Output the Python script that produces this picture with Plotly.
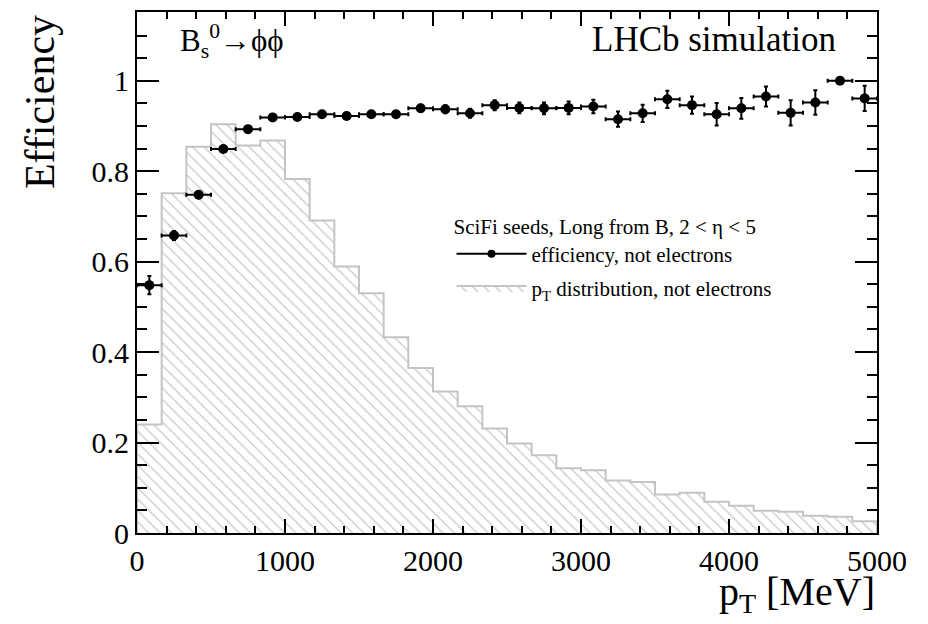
import numpy as np
import plotly.graph_objects as go

# ---- data ----
bin_edges = np.linspace(0, 5000, 31)
bin_centers = 0.5 * (bin_edges[:-1] + bin_edges[1:])
bin_half = 0.5 * (bin_edges[1] - bin_edges[0])

efficiency = [0.548, 0.658, 0.748, 0.849, 0.893, 0.919, 0.920, 0.926, 0.922, 0.926,
              0.926, 0.939, 0.937, 0.928, 0.946, 0.940, 0.939, 0.940, 0.943, 0.915,
              0.928, 0.959, 0.946, 0.926, 0.939, 0.965, 0.929, 0.952, 1.000, 0.961]
efficiency_err = [0.020, 0.010, 0.008, 0.006, 0.005, 0.004, 0.004, 0.005, 0.005, 0.006,
                  0.007, 0.008, 0.009, 0.010, 0.011, 0.012, 0.013, 0.014, 0.015, 0.017,
                  0.019, 0.019, 0.019, 0.025, 0.023, 0.022, 0.028, 0.027, 0.004, 0.028]
pt_distribution = [0.240, 0.751, 0.854, 0.904, 0.857, 0.868, 0.783, 0.691, 0.589, 0.530,
                   0.433, 0.365, 0.313, 0.280, 0.231, 0.198, 0.172, 0.143, 0.139, 0.116,
                   0.113, 0.085, 0.089, 0.069, 0.060, 0.049, 0.047, 0.038, 0.036, 0.026]

x_ticks = [0, 1000, 2000, 3000, 4000, 5000]
y_ticks = [0, 0.2, 0.4, 0.6, 0.8, 1.0]

FONT = "Liberation Serif, Times New Roman, serif"

# step outline built from the histogram contents
step_x = [bin_edges[0]] + list(bin_edges[:-1]) + [bin_edges[-1], bin_edges[-1]]
step_y = [0] + list(pt_distribution) + [pt_distribution[-1], 0]

fig = go.Figure()

fig.add_trace(go.Scatter(
    x=step_x, y=step_y, mode="lines", line_shape="hv",
    line=dict(color="#c4c4c4", width=2),
    fill="tozeroy", fillcolor="white",
    fillpattern=dict(shape="\\", fgcolor="#9a9a9a", bgcolor="white", size=8, solidity=0.18),
    name="p<sub>T</sub> distribution, not electrons",
    showlegend=True, legendrank=2, legendgroup="b",
))

fig.add_trace(go.Scatter(
    x=bin_centers, y=efficiency, mode="markers",
    marker=dict(color="black", size=10),
    error_x=dict(type="constant", value=bin_half, color="black", thickness=2, width=2),
    error_y=dict(type="data", array=efficiency_err, color="black", thickness=2, width=2),
    showlegend=False,
))

# legend proxy (no data) for the efficiency entry
fig.add_trace(go.Scatter(
    x=[None], y=[None], mode="lines+markers",
    line=dict(color="black", width=2), marker=dict(color="black", size=8),
    name="efficiency, not electrons", legendrank=1, legendgroup="a",
))

fig.update_layout(
    width=928, height=624,
    margin=dict(l=137, r=51, t=10, b=91),
    paper_bgcolor="white", plot_bgcolor="white",
    font=dict(family=FONT, color="black"),
    showlegend=True,
    legend=dict(
        x=0.425, y=0.627, xanchor="left", yanchor="top",
        bgcolor="rgba(0,0,0,0)", borderwidth=0,
        font=dict(family=FONT, size=21, color="black"),
        title=dict(text="SciFi seeds, Long from B, 2 &lt; η &lt; 5",
                   font=dict(family=FONT, size=21, color="black")),
        itemwidth=70, traceorder="grouped", tracegroupgap=4,
    ),
    xaxis=dict(
        range=[0, 5000], tickvals=x_ticks, tickformat="d",
        ticks="inside", ticklen=14, tickwidth=2, tickcolor="black",
        minor=dict(dtick=200, ticks="inside", ticklen=7, tickwidth=1.5, tickcolor="black"),
        showline=True, linecolor="black", linewidth=2, mirror="ticks",
        showgrid=False, zeroline=False,
        tickfont=dict(family=FONT, size=30, color="black"),
    ),
    yaxis=dict(
        range=[0, 1.152], tickvals=y_ticks,
        ticks="inside", ticklen=22, tickwidth=2, tickcolor="black",
        minor=dict(dtick=0.05, ticks="inside", ticklen=10, tickwidth=1.5, tickcolor="black"),
        showline=True, linecolor="black", linewidth=2, mirror="ticks",
        showgrid=False, zeroline=False,
        tickfont=dict(family=FONT, size=30, color="black"),
    ),
    annotations=[
        dict(text="Efficiency", textangle=-90, xref="paper", yref="paper",
             x=-0.131, y=0.998, xanchor="center", yanchor="top", showarrow=False,
             font=dict(family=FONT, size=42, color="black")),
        dict(text="p<sub>T</sub> [MeV]", xref="paper", yref="paper",
             x=1.0, y=-0.168, xanchor="right", yanchor="bottom", showarrow=False,
             font=dict(family=FONT, size=40, color="black")),
        dict(text="LHCb simulation", xref="paper", yref="paper",
             x=0.947, y=0.988, xanchor="right", yanchor="top", showarrow=False,
             font=dict(family=FONT, size=35, color="black")),
        dict(text="B<sub>s</sub><sup>0</sup>→ϕϕ", xref="paper", yref="paper",
             x=0.055, y=0.99, xanchor="left", yanchor="top", showarrow=False,
             font=dict(family=FONT, size=31, color="black")),
    ],
)

fig.write_html("out.html")
